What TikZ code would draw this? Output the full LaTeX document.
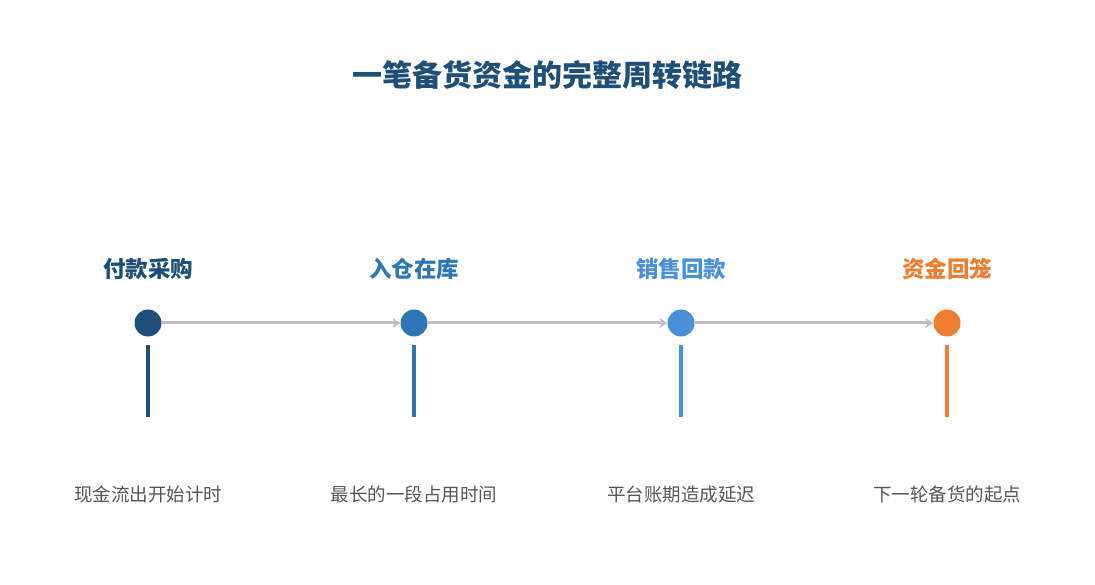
\documentclass[tikz,border=0pt]{standalone}
\usepackage{fontspec}
\setmainfont{Noto Sans CJK SC}
\usetikzlibrary{arrows.meta}
\definecolor{c1}{HTML}{1F4E79}
\definecolor{c2}{HTML}{2E75B6}
\definecolor{c3}{HTML}{4A90D9}
\definecolor{c4}{HTML}{ED7D31}
\definecolor{gline}{HTML}{BFBFBF}
\definecolor{gtxt}{HTML}{555555}
\begin{document}
\begin{tikzpicture}[x=1pt,y=-1pt,
  dot/.style={circle,fill=#1,minimum size=27pt,inner sep=0pt},
  lab/.style={text=#1,font=\bfseries\fontsize{22.5}{25}\selectfont},
  sub/.style={text=gtxt,font=\fontsize{18.5}{21}\selectfont},
  conn/.style={draw=gline,line width=3pt,-{Stealth[length=8pt,width=10pt]}},
  stem/.style={line width=3.5pt}]
\useasboundingbox (0,0) rectangle (1095,585);
\node[text=c1,font=\bfseries\fontsize{30}{34}\selectfont] (title) at (547,75) {一笔备货资金的完整周转链路};
\foreach \i/\x/\c/\l/\s in {1/148/c1/付款采购/现金流出开始计时,2/414/c2/入仓在库/最长的一段占用时间,3/681/c3/销售回款/平台账期造成延迟,4/947/c4/资金回笼/下一轮备货的起点}{
  \node[lab=\c] (l\i) at (\x,269) {\l};
  \node[dot=\c] (d\i) at (\x,323) {};
  \coordinate (a\i) at (\x,345);
  \coordinate (b\i) at (\x,417);
  \draw[stem,draw=\c] (a\i) -- (b\i);
  \node[sub] (s\i) at (\x,494) {\s};
}
\draw[conn] (d1) -- (d2);
\draw[conn] (d2) -- (d3);
\draw[conn] (d3) -- (d4);
\end{tikzpicture}
\end{document}
